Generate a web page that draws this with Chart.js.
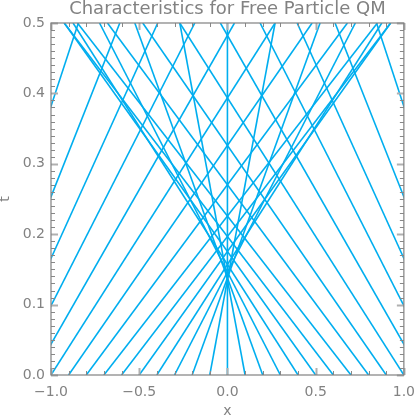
<!DOCTYPE html>
<html><head><meta charset="utf-8">
<script src="https://cdn.jsdelivr.net/npm/chart.js@4"></script>
<style>html,body{margin:0;padding:0;background:#fff;}#wrap{width:415px;height:415px;}</style>
</head><body><div id="wrap"><canvas id="c" width="415" height="415"></canvas></div>
<script>
// Starting positions of each characteristic at t = 0
const startX = [-1.5,-1.4,-1.3,-1.2,-1.1,-1.0,-0.9,-0.8,-0.7,-0.6,-0.5,-0.4,-0.3,-0.2,-0.1,0,
                0.1,0.2,0.3,0.4,0.5,0.6,0.7,0.8,0.9,1.0,1.1,1.2,1.3,1.4,1.5];
// Velocity (dx/dt) of each characteristic, read from slopes
const velocity = [1.31,1.58,1.81,2.03,2.28,2.54,2.76,2.96,3.10,3.05,2.85,2.55,2.05,1.45,0.74,0,
                  -0.74,-1.45,-2.05,-2.55,-2.85,-3.05,-3.10,-2.96,-2.76,-2.54,-2.28,-2.03,-1.81,-1.58,-1.31];
const tRange = [0, 0.5];
const xRange = [-1, 1];
const xTickStep = 0.5;
const yTickStep = 0.1;

const lineColor = '#00AEEF';
const textColor = '#828282';
const fontFamily = 'DejaVu Sans';

const datasets = startX.map((x0, i) => ({
  label: 'x0=' + x0,
  data: [{x: x0, y: tRange[0]}, {x: x0 + velocity[i] * (tRange[1] - tRange[0]), y: tRange[1]}],
  showLine: true,
  borderColor: lineColor,
  borderWidth: 1.6,
  pointRadius: 0,
  fill: false,
  clip: 0
}));

const frame = {
  id: 'frame',
  afterDatasetsDraw(chart) {
    const {ctx, chartArea: a, scales: {x, y}} = chart;
    ctx.save();
    const tick = (val, scale, horiz, len, w, col) => {
      ctx.strokeStyle = col; ctx.lineWidth = w;
      ctx.beginPath();
      const p = Math.round(scale.getPixelForValue(val)) + 0.5;
      if (horiz) {
        ctx.moveTo(p, a.bottom); ctx.lineTo(p, a.bottom - len);
        ctx.moveTo(p, a.top); ctx.lineTo(p, a.top + len);
      } else {
        ctx.moveTo(a.left, p); ctx.lineTo(a.left + len, p);
        ctx.moveTo(a.right, p); ctx.lineTo(a.right - len, p);
      }
      ctx.stroke();
    };
    for (let k = 0; k <= 20; k++) tick(xRange[0] + k * 0.1, x, true, 4, 1, '#888');
    for (let k = 0; k <= 50; k++) tick(tRange[0] + k * 0.01, y, false, 4, 1, '#888');
    for (let k = 0; k <= 4; k++) tick(xRange[0] + k * xTickStep, x, true, 7, 2, '#b0b0b0');
    for (let k = 0; k <= 5; k++) tick(tRange[0] + k * yTickStep, y, false, 7, 2, '#b0b0b0');
    ctx.strokeStyle = '#808080'; ctx.lineWidth = 1.2;
    ctx.strokeRect(a.left, a.top, a.right - a.left, a.bottom - a.top);
    ctx.restore();
  }
};

new Chart(document.getElementById('c'), {
  type: 'scatter',
  data: {datasets},
  options: {
    responsive: false,
    animation: false,
    layout: {padding: {left: 0, right: 0, top: 0, bottom: 0}},
    plugins: {
      legend: {display: false},
      tooltip: {enabled: false},
      title: {
        display: true,
        fullSize: false,
        text: 'Characteristics for Free Particle QM',
        color: textColor,
        font: {family: fontFamily, size: 18, weight: 'normal', lineHeight: 1.0},
        padding: {top: 0, bottom: 5}
      }
    },
    scales: {
      x: {
        type: 'linear', min: xRange[0], max: xRange[1],
        ticks: {stepSize: xTickStep, color: textColor, font: {family: fontFamily, size: 14},
                padding: 0, maxRotation: 0, autoSkip: false,
                callback: v => (v < 0 ? '\u2212' : '') + Math.abs(v).toFixed(1)},
        grid: {display: false, drawTicks: true, tickLength: 9},
        border: {display: false},
        title: {display: true, text: 'x', color: textColor, font: {family: fontFamily, size: 14},
                padding: {top: 0, bottom: -5}},
        afterFit: s => { s.height = 40; }
      },
      y: {
        type: 'linear', min: tRange[0], max: tRange[1],
        ticks: {stepSize: yTickStep, color: textColor, font: {family: fontFamily, size: 14},
                padding: 6, callback: v => v.toFixed(1)},
        grid: {display: false, drawTicks: false},
        border: {display: false},
        title: {display: true, text: 't', color: textColor, font: {family: fontFamily, size: 14},
                padding: {top: -3, bottom: 0}},
        afterFit: s => { s.width = 51; }
      }
    }
  },
  plugins: [frame]
});
</script></body></html>
